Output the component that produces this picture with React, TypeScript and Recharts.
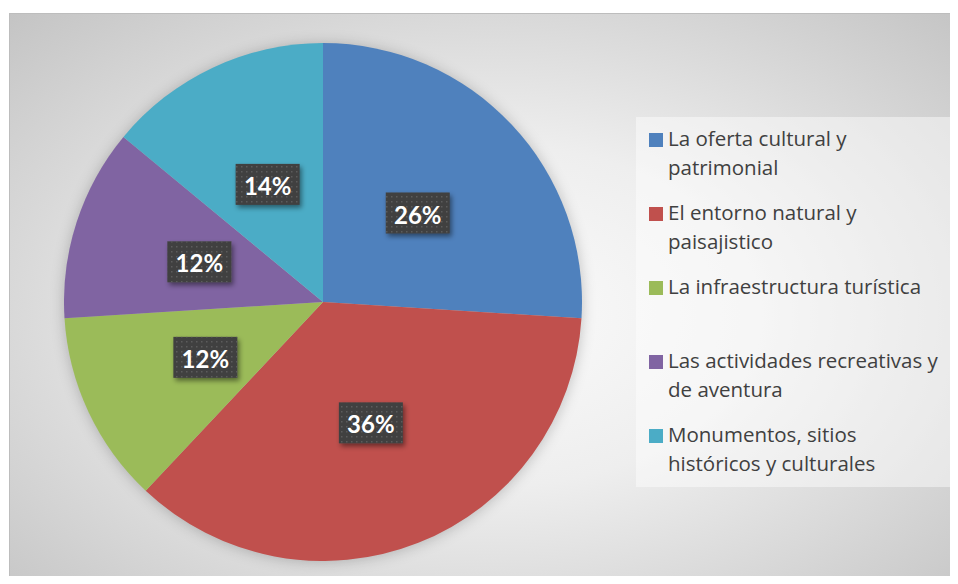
import React from 'react'
import { PieChart, Pie, Cell, Legend } from 'recharts'

const legendLines = [
  ['La oferta cultural y', 'patrimonial'],
  ['El entorno natural y', 'paisajistico'],
  ['La infraestructura turística'],
  ['Las actividades recreativas y', 'de aventura'],
  ['Monumentos, sitios', 'históricos y culturales'],
]
const names = legendLines.map((l) => l.join(' '))
const shares = [26, 36, 12, 12, 14]
const colors = ['#4F81BD', '#C0504D', '#9BBB59', '#8064A2', '#4BACC6']

const data = names.map((name, i) => ({ name, value: shares[i] }))

const RADIAN = Math.PI / 180
const LABEL_FONT = 'Lato, "Open Sans", sans-serif'
const LEGEND_FONT = '"Open Sans", Lato, sans-serif'

function renderLabel(props: any) {
  const { cx, cy, midAngle, index, value } = props
  const r = 130
  const x = cx + r * Math.cos(-midAngle * RADIAN)
  const y = cy + r * Math.sin(-midAngle * RADIAN)
  const w = 64
  const h = 41
  return (
    <g key={`lbl-${index}`}>
      {index === 0 && (
        <defs>
          <pattern id="dots" width="5" height="5" patternUnits="userSpaceOnUse">
            <rect x="1" y="1" width="1.5" height="1.5" fill="#5c5c5c" />
          </pattern>
          <filter id="boxShadow" x="-20%" y="-20%" width="150%" height="160%">
            <feDropShadow dx="2" dy="3" stdDeviation="2.5" floodColor="#000" floodOpacity="0.45" />
          </filter>
        </defs>
      )}
      <rect x={x - w / 2} y={y - h / 2} width={w} height={h} fill="#404040" filter="url(#boxShadow)" />
      <rect x={x - w / 2} y={y - h / 2} width={w} height={h} fill="url(#dots)" />
      <text x={x} y={y + 1} fill="#fff" textAnchor="middle" dominantBaseline="central"
        style={{ fontFamily: LABEL_FONT, fontWeight: 700, fontSize: 24 }}>
        {value}%
      </text>
    </g>
  )
}

function LegendBox() {
  return (
    <div style={{
      width: 318, height: 370, boxSizing: 'border-box', paddingTop: 7, paddingLeft: 13,
      background: 'rgba(255,255,255,0.45)', fontFamily: LEGEND_FONT, fontSize: 20.5, color: '#404040',
    }}>
      {legendLines.map((lines, i) => (
        <div key={i} style={{ height: 74, display: 'flex', alignItems: 'flex-start' }}>
          <div style={{ width: 14, height: 14, background: colors[i], marginTop: 9, marginRight: 5, flexShrink: 0 }} />
          <div style={{ lineHeight: '29px' }}>
            {lines.map((t, j) => <div key={j} style={{ whiteSpace: 'nowrap' }}>{t}</div>)}
          </div>
        </div>
      ))}
    </div>
  )
}

export default function App() {
  return (
    <div style={{ position: 'relative', width: 958, height: 584, margin: -8, overflow: 'hidden', background: '#fff' }}>
      <style>{`.recharts-pie { filter: drop-shadow(0 1px 7px rgba(0,0,0,0.22)); }`}</style>
      <div style={{
        position: 'absolute', left: 9, top: 13, width: 960, height: 580,
        borderTop: '1px solid #bdbdbd', borderLeft: '1px solid #bdbdbd',
        background: 'radial-gradient(ellipse at 50% 52%, #fbfbfb 0%, #eeeeee 40%, #c4c4c4 100%)',
      }} />
      <div style={{ position: 'absolute', left: 0, top: 0 }}>
        <PieChart width={958} height={584} margin={{ top: 0, right: 0, bottom: 0, left: 0 }}>
          <Pie data={data} dataKey="value" nameKey="name" cx={323} cy={302} outerRadius={259}
            startAngle={90} endAngle={-270} stroke="none" label={renderLabel} labelLine={false}
            isAnimationActive={false}>
            {data.map((d, i) => <Cell key={i} fill={colors[i]} />)}
          </Pie>
          <Legend content={() => <LegendBox />} wrapperStyle={{ position: 'absolute', left: 636, top: 117, width: 318 }} />
        </PieChart>
      </div>
    </div>
  )
}
